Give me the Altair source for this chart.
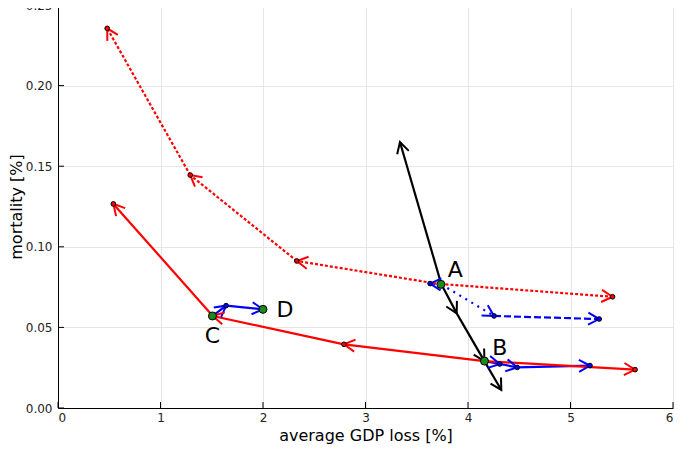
import math
import altair as alt
import pandas as pd

W, H = 615, 403
X_DOMAIN = [0, 6]
Y_DOMAIN = [0, 0.25]
x_ticks = [0, 1, 2, 3, 4, 5, 6]
y_ticks = [0.00, 0.05, 0.10, 0.15, 0.20, 0.25]

# ---- data ----
red_up_x = [3.74, 2.33, 1.29, 0.48]
red_up_y = [0.0767, 0.0912, 0.1445, 0.2355]
red_right_dot_x = [3.78, 5.41]
red_right_dot_y = [0.0767, 0.0690]

red_left_x = [4.16, 2.79, 1.51, 0.54]
red_left_y = [0.0291, 0.0395, 0.0571, 0.1266]
red_right_x = [4.16, 5.63]
red_right_y = [0.0291, 0.0238]

blue_left_x = [3.74, 3.63]
blue_left_y = [0.0767, 0.0772]
blue_dot_x = [3.74, 4.254]
blue_dot_y = [0.0767, 0.0571]
blue_dash_x = [4.254, 5.28]
blue_dash_y = [0.0571, 0.0552]
blue_B_x = [4.16, 4.31, 4.48, 5.19]
blue_B_y = [0.0291, 0.0273, 0.0252, 0.0263]
blue_C_x = [1.51, 1.64, 2.00]
blue_C_y = [0.0571, 0.0635, 0.0612]

black_up_x = [3.74, 3.336]
black_up_y = [0.0767, 0.165]
black_down_x = [3.74, 3.89, 4.16, 4.325]
black_down_y = [0.0767, 0.0587, 0.0291, 0.0112]

green_x = [3.736, 4.161, 1.507, 2.00]
green_y = [0.0767, 0.0291, 0.0571, 0.0612]

label_text = ["A", "B", "C", "D"]
label_x = [3.875, 4.31, 1.507, 2.215]
label_y = [0.0856, 0.0372, 0.0447, 0.0608]

RED, BLUE, BLACK, GREEN = "#ff0000", "#0000ff", "#000000", "#1a8a1a"

paths = [
    (blue_left_x, blue_left_y, BLUE, [2, 4], True),
    (blue_dot_x, blue_dot_y, BLUE, [2, 5], True),
    (blue_dash_x, blue_dash_y, BLUE, [7, 3], True),
    (blue_B_x, blue_B_y, BLUE, None, True),
    (blue_C_x, blue_C_y, BLUE, None, True),
    (red_up_x, red_up_y, RED, [3, 2], True),
    (red_right_dot_x, red_right_dot_y, RED, [3, 2], True),
    (red_left_x, red_left_y, RED, None, True),
    (red_right_x, red_right_y, RED, None, True),
    (black_up_x, black_up_y, BLACK, None, False),
    (black_down_x, black_down_y, BLACK, None, False),
]

sx = W / (X_DOMAIN[1] - X_DOMAIN[0])
sy = H / (Y_DOMAIN[1] - Y_DOMAIN[0])

xs = alt.Scale(domain=X_DOMAIN, nice=False, zero=False)
ys = alt.Scale(domain=Y_DOMAIN, nice=False, zero=False)

FONT = "DejaVu Sans"
ARROW = "M -1 -0.55 L 0 0 L -1 0.55"

x_axis = alt.Axis(values=x_ticks, format="d", grid=True, ticks=False,
                  labelPadding=4, titlePadding=4, title="average GDP loss [%]")
y_axis = alt.Axis(values=y_ticks, format=".2f", grid=True, ticks=False,
                  labelPadding=6, titlePadding=1, title="mortality [%]")


def X(f):
    return alt.X(f, scale=xs, axis=x_axis)


def Y(f):
    return alt.Y(f, scale=ys, axis=y_axis)


layers = []

# inward tick marks
ytk = alt.Chart(pd.DataFrame({"v": y_ticks})).mark_rule(color="black", strokeWidth=1).encode(
    y=Y("v:Q"), x=alt.value(0), x2=alt.value(6))
xtk = alt.Chart(pd.DataFrame({"v": x_ticks})).mark_rule(color="black", strokeWidth=1).encode(
    x=X("v:Q"), y=alt.value(H), y2=alt.value(H - 6))
layers += [ytk, xtk]

seg_layers, head_layers, marker_rows = [], [], []
for px, py, col, dash, mk in paths:
    segs = []
    for i in range(1, len(px)):
        x0, y0, x1, y1 = px[i - 1], py[i - 1], px[i], py[i]
        ang = math.degrees(math.atan2(-(y1 - y0) * sy, (x1 - x0) * sx)) % 360
        segs.append({"x": x0, "y": y0, "x2": x1, "y2": y1, "ang": ang})
        if mk:
            marker_rows.append({"x": x1, "y": y1, "c": col})
    df = pd.DataFrame(segs)
    kw = dict(color=col, strokeWidth=2.2)
    if dash:
        kw["strokeDash"] = dash
    seg_layers.append(alt.Chart(df).mark_rule(**kw).encode(
        x=X("x:Q"), y=Y("y:Q"), x2="x2:Q", y2="y2:Q"))
    head_layers.append(alt.Chart(df).mark_point(
        shape=ARROW, filled=False, stroke=col, strokeWidth=2, size=480, opacity=1).encode(
        x=X("x2:Q"), y=Y("y2:Q"), angle=alt.Angle("ang:Q", scale=None)))

layers += seg_layers + head_layers

mdf = pd.DataFrame(marker_rows)
markers = alt.Chart(mdf).mark_point(filled=True, size=22, stroke="black", strokeWidth=1, opacity=1).encode(
    x=X("x:Q"), y=Y("y:Q"), fill=alt.Fill("c:N", scale=None))
greens = alt.Chart(pd.DataFrame({"x": green_x, "y": green_y})).mark_point(
    filled=True, size=64, fill=GREEN, stroke="black", strokeWidth=1, opacity=1).encode(
    x=X("x:Q"), y=Y("y:Q"))
labels = alt.Chart(pd.DataFrame({"t": label_text, "x": label_x, "y": label_y})).mark_text(
    font=FONT, fontSize=22, color="black", align="center", baseline="middle").encode(
    x=X("x:Q"), y=Y("y:Q"), text="t:N")
layers += [markers, greens, labels]

chart = alt.layer(*layers).properties(
    width=W, height=H,
    autosize=alt.AutoSizeParams(type="none"),
    padding={"left": 50, "top": -3, "right": 4, "bottom": 36},
).configure_view(stroke=None).configure_axis(
    domainColor="black", domainWidth=1, gridColor="#e6e6e6", gridWidth=1,
    labelFont=FONT, labelFontSize=12, labelColor="#222222",
    titleFont=FONT, titleFontSize=16, titleFontWeight="normal", titleColor="black",
)

chart.save("out.html", embed_options={"renderer": "svg", "actions": False})
